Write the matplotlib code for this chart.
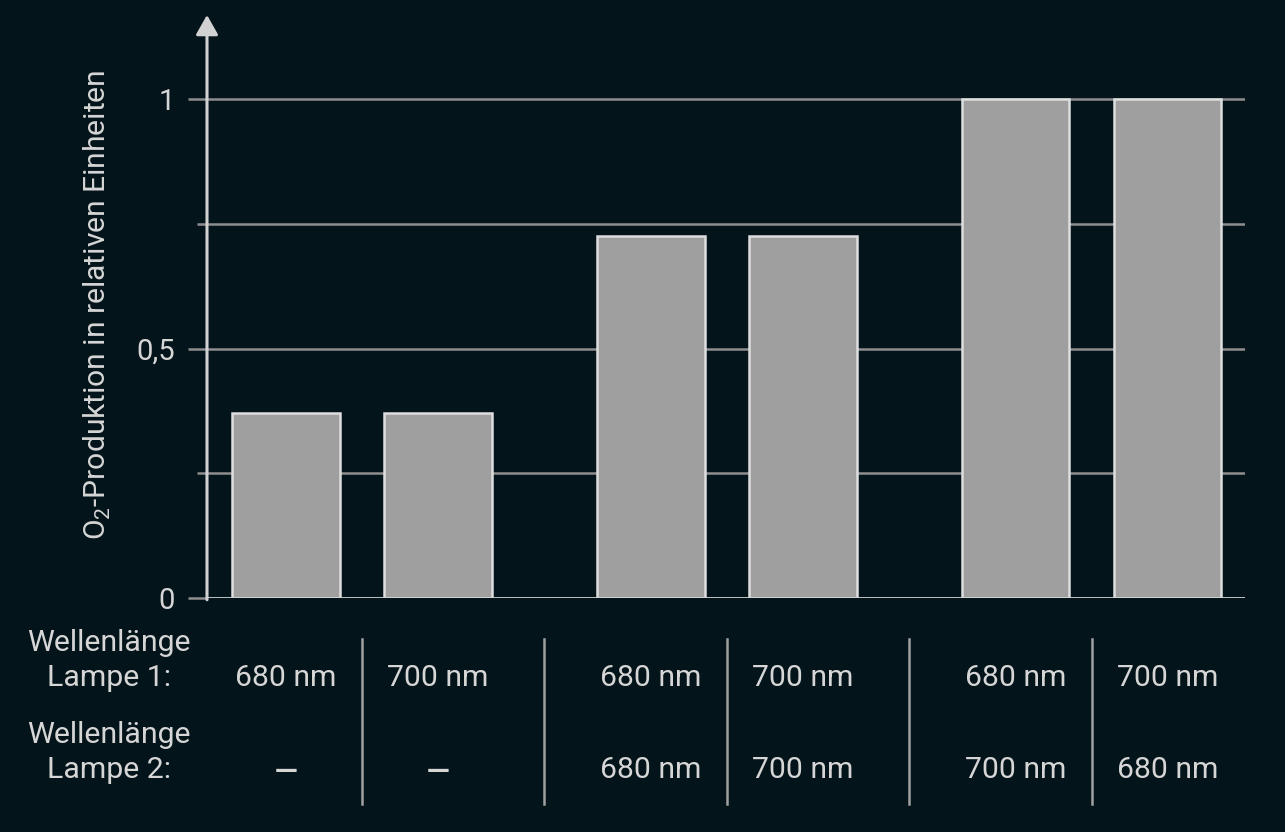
import numpy as np
import matplotlib
matplotlib.use('Agg')
import matplotlib.pyplot as plt
import matplotlib.transforms as mtransforms
from matplotlib.lines import Line2D

# data
values = [0.37, 0.37, 0.725, 0.725, 1.0, 1.0]
groups = [0, 0, 1, 1, 2, 2]
members = [0, 1, 0, 1, 0, 1]
lamp1 = ['680 nm', '700 nm', '680 nm', '700 nm', '680 nm', '700 nm']
lamp2 = ['–', '–', '680 nm', '700 nm', '700 nm', '680 nm']
row_labels = [('Wellenlänge', 'Lampe 1:'), ('Wellenlänge', 'Lampe 2:')]
yticks_major = [0, 0.5, 1]
yticks_minor = [0.25, 0.75]
ytick_labels = ['0', '0,5', '1']
ylabel = r'O$_{\mathrm{2}}$-Produktion in relativen Einheiten'

bg = '#03141a'
txt = '#d6d6d6'
grid = '#8e8e8e'
light = '#d2d2d2'

plt.rcParams['font.family'] = ['Roboto', 'DejaVu Sans']
plt.rcParams['mathtext.fontset'] = 'custom'
plt.rcParams['mathtext.rm'] = 'Roboto'

W, H = 1285, 832
fig = plt.figure(figsize=(W / 100, H / 100), dpi=100, facecolor=bg)

# axes placed in pixel terms
x0, x1 = 207, 1245
y0, ytop = 598, 15
ax = fig.add_axes([x0 / W, (H - y0) / H, (x1 - x0) / W, (y0 - ytop) / H])
ax.set_facecolor(bg)
ymax = (y0 - ytop) / 499
ax.set_ylim(0, ymax)
ax.set_xlim(-0.52, 6.31)

pos = np.array(groups) * 2.4 + np.array(members)

for y in yticks_major[1:] + yticks_minor:
    ax.axhline(y, color=grid, lw=1.8, zorder=1)

ax.bar(pos, values, width=0.71, color='#9f9f9f', edgecolor='#dedede',
       linewidth=1.8, zorder=3)

for s in ax.spines.values():
    s.set_visible(False)

ax.axhline(0, color=light, lw=2.0, zorder=4)
ax.annotate('', xy=(0, 1), xycoords='axes fraction', xytext=(0, -0.003),
            arrowprops=dict(arrowstyle='-|>,head_length=0.6,head_width=0.34',
                            color=light, lw=2.2, mutation_scale=20,
                            shrinkA=0, shrinkB=0),
            annotation_clip=False, zorder=5)

ax.set_xticks([])
ax.set_yticks(yticks_major)
ax.set_yticklabels(ytick_labels)
ax.set_yticks(yticks_minor, minor=True)
ax.tick_params(axis='y', which='major', length=14, width=1.8, color=grid,
               pad=9, labelsize=21, labelcolor=txt)
ax.tick_params(axis='y', which='minor', length=7.5, width=1.8, color=grid)
for t in ax.get_yticklines():
    t.set_zorder(1)

fig.text(97 / W, (H - 305) / H, ylabel, rotation=90, ha='center', va='center',
         fontsize=21.6, color=txt)

# table below the chart
tr = mtransforms.blended_transform_factory(ax.transData, fig.transFigure)
base1, base2 = 686, 778
for i in range(len(pos)):
    ax.text(pos[i], (H - base1) / H, lamp1[i], transform=tr, ha='center',
            va='baseline', fontsize=21.7, color=txt)
    if lamp2[i] == '–':
        ax.text(pos[i], (H - base2 - 8) / H, lamp2[i], transform=tr,
                ha='center', va='baseline', fontsize=30, color=txt)
    else:
        ax.text(pos[i], (H - base2) / H, lamp2[i], transform=tr, ha='center',
                va='baseline', fontsize=21.7, color=txt)

for (l1, l2), b in zip(row_labels, [base1, base2]):
    fig.text(109 / W, (H - b + 35) / H, l1, ha='center', va='baseline',
             fontsize=21.8, color=txt)
    fig.text(109 / W, (H - b) / H, l2, ha='center', va='baseline',
             fontsize=21.8, color=txt)

for i in range(len(pos) - 1):
    xm = (pos[i] + pos[i + 1]) / 2
    ax.add_line(Line2D([xm, xm], [(H - 639) / H, (H - 804) / H], transform=tr,
                       color='#a0a0a0', lw=1.8, clip_on=False))

fig.savefig('out.png', dpi=100, facecolor=bg)
